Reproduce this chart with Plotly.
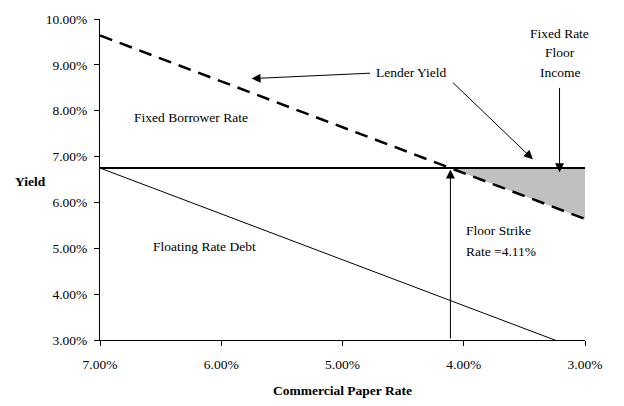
import plotly.graph_objects as go

# Data (percent units)
cp_rate = [7.0, 3.0]
lender_yield = [9.64, 5.64]
fixed_borrower = [6.75, 6.75]
floating_debt = [6.75, 2.75]
floor_strike = 4.11
floor_income_x = [4.11, 3.0, 3.0]
floor_income_y = [6.75, 5.64, 6.75]
x_ticks = [7.0, 6.0, 5.0, 4.0, 3.0]
x_tick_labels = ["7.00%", "6.00%", "5.00%", "4.00%", "3.00%"]
y_ticks = [3.0, 4.0, 5.0, 6.0, 7.0, 8.0, 9.0, 10.0]
y_tick_labels = ["3.00%", "4.00%", "5.00%", "6.00%", "7.00%", "8.00%", "9.00%", "10.00%"]

FONT = "Liberation Serif"
FS = 13.5

fig = go.Figure()
fig.add_trace(go.Scatter(x=floor_income_x, y=floor_income_y, fill="toself",
                         fillcolor="#C0C0C0", line=dict(width=0), mode="lines",
                         hoverinfo="skip"))
fig.add_trace(go.Scatter(x=cp_rate, y=fixed_borrower, mode="lines",
                         line=dict(color="black", width=2)))
fig.add_trace(go.Scatter(x=cp_rate, y=floating_debt, mode="lines",
                         line=dict(color="black", width=1)))
fig.add_trace(go.Scatter(x=cp_rate, y=lender_yield, mode="lines",
                         line=dict(color="black", width=2.5, dash="13px,8px")))

ann = []
def arrow(hx, hy, tx, ty):
    ann.append(dict(x=hx, y=hy, ax=tx, ay=ty, xref="x", yref="y", axref="x", ayref="y",
                    text="", showarrow=True, arrowhead=2, arrowsize=1.8, arrowwidth=1,
                    arrowcolor="black", standoff=0, startstandoff=0))

arrow(5.75, 8.70, 4.76, 8.82)
arrow(3.43, 6.94, 4.10, 8.64)
arrow(3.21, 6.66, 3.21, 8.53)
arrow(floor_strike, 6.72, floor_strike, 3.0)

def label(x, y, t, xanchor="center"):
    ann.append(dict(x=x, y=y, xref="x", yref="y", text=t, showarrow=False,
                    xanchor=xanchor, yanchor="middle", font=dict(family=FONT, size=FS, color="black")))

label(4.43, 8.84, "Lender Yield")
label(6.25, 7.86, "Fixed Borrower Rate")
label(6.14, 5.03, "Floating Rate Debt")
label(3.21, 9.69, "Fixed Rate")
label(3.21, 9.27, "Floor")
label(3.21, 8.84, "Income")
label(4.00, 5.38, "Floor Strike", "left")
label(4.00, 4.94, "Rate =4.11%", "left")

ann.append(dict(x=-0.144, y=0.495, xref="paper", yref="paper", text="<b>Yield</b>",
                xanchor="center", yanchor="middle",
                showarrow=False, font=dict(family=FONT, size=FS, color="black")))
ann.append(dict(x=0.499, y=-0.156, xref="paper", yref="paper", text="<b>Commercial Paper Rate</b>",
                xanchor="center", yanchor="middle",
                showarrow=False, font=dict(family=FONT, size=FS, color="black")))

fig.update_layout(
    width=624, height=406, margin=dict(l=100, r=39, t=19, b=66),
    paper_bgcolor="white", plot_bgcolor="white", showlegend=False,
    annotations=ann,
    font=dict(family=FONT, size=FS, color="black"),
)
fig.update_xaxes(range=[7.0, 3.0], tickvals=x_ticks, ticktext=x_tick_labels,
                 showgrid=False, zeroline=False, showline=True, linecolor="black", linewidth=1,
                 ticks="outside", ticklen=5, tickcolor="black", ticklabelstandoff=7)
fig.update_yaxes(range=[3.0, 10.0], tickvals=y_ticks, ticktext=y_tick_labels,
                 showgrid=False, zeroline=False, showline=True, linecolor="black", linewidth=1,
                 ticks="outside", ticklen=5, tickcolor="black", ticklabelstandoff=4)

fig.write_html("out.html")
